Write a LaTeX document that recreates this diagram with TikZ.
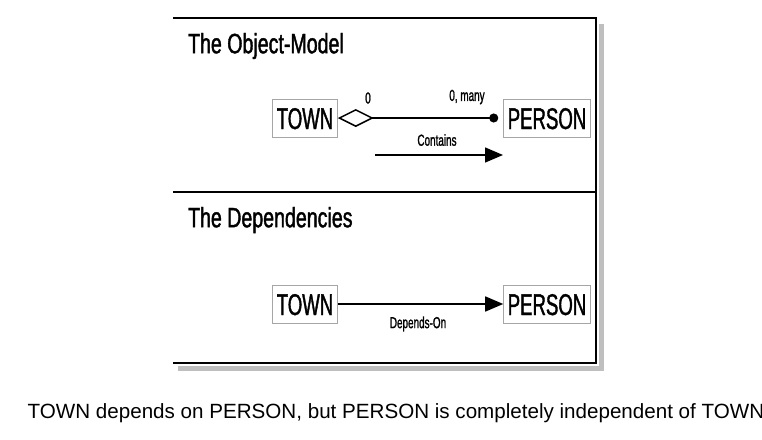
\documentclass[tikz,border=0pt]{standalone}
\usepackage{fontspec}
\setmainfont{Liberation Sans}
\newfontfamily\condfont[FakeStretch=0.62,FakeBold=1.2]{Liberation Sans}
\newfontfamily\titelfont[FakeStretch=0.7,FakeBold=1.4]{Liberation Sans}
\usetikzlibrary{arrows.meta}

\tikzset{
  klasse/.style={draw=gray!70, line width=0.5pt, inner xsep=2pt, inner ysep=4pt,
    text height=11pt, text depth=0pt, font=\condfont\fontsize{15}{15}\selectfont},
  titel/.style={anchor=west, font=\titelfont\fontsize{14}{14}\selectfont},
  rolle/.style={font=\condfont\fontsize{8}{8}\selectfont},
  rahmen/.style={line width=1pt},
  schatten/.style={line width=2.5pt, black!25},
  verbindung/.style={line width=0.75pt},
}

\begin{document}
\begin{tikzpicture}[x=0.5pt,y=-0.5pt]
        \useasboundingbox[fill=white] (0,0) rectangle (762,440);

        %%%%%%%%% Rahmen %%%%%%%%%%
        \draw[schatten] (601,24) -- (601,368) -- (178,368);
        \draw[rahmen] (173,18) -- (596,18) -- (596,363) -- (173,363);
        \draw[rahmen] (173,192) -- (596,192);

        %%%%%%%%% Titel %%%%%%%%%
        \node[titel] (titelmodell) at (181,46) {The Object-Model};
        \node[titel] (titeldep) at (181,220) {The Dependencies};

        %%%%%%%% Object-Model %%%%%%%%
        \node[klasse] (town1) at (305,118) {TOWN};
        \node[klasse] (person1) at (547,118) {PERSON};
        \draw[verbindung, {Diamond[open,length=18pt,width=9pt]}-{Circle[length=4.5pt]}, shorten >=2.5pt] (town1) -- (person1);
        \node[rolle] (null) at (368,98) {0};
        \node[rolle] (viele) at (467,97) {0, many};
        \node[rolle] (contains) at (437,140) {Contains};
        \coordinate (cstart) at (375,155);
        \coordinate (cende) at (503,155);
        \draw[verbindung, -{Triangle[length=9pt,width=7.5pt]}] (cstart) -- (cende);

        %%%%%%%% Dependencies %%%%%%%%
        \node[klasse] (town2) at (305,304) {TOWN};
        \node[klasse] (person2) at (547,304) {PERSON};
        \draw[verbindung, -{Triangle[length=9pt,width=7.5pt]}] (town2) -- (person2);
        \node[rolle] (dependson) at (418,324) {Depends-On};

        %%%%%%%% Legende %%%%%%%%%
        \node[font=\fontsize{10.3}{10.3}\selectfont] (legende) at (396,413) {TOWN depends on PERSON, but PERSON is completely independent of TOWN};
    \end{tikzpicture}
\end{document}
